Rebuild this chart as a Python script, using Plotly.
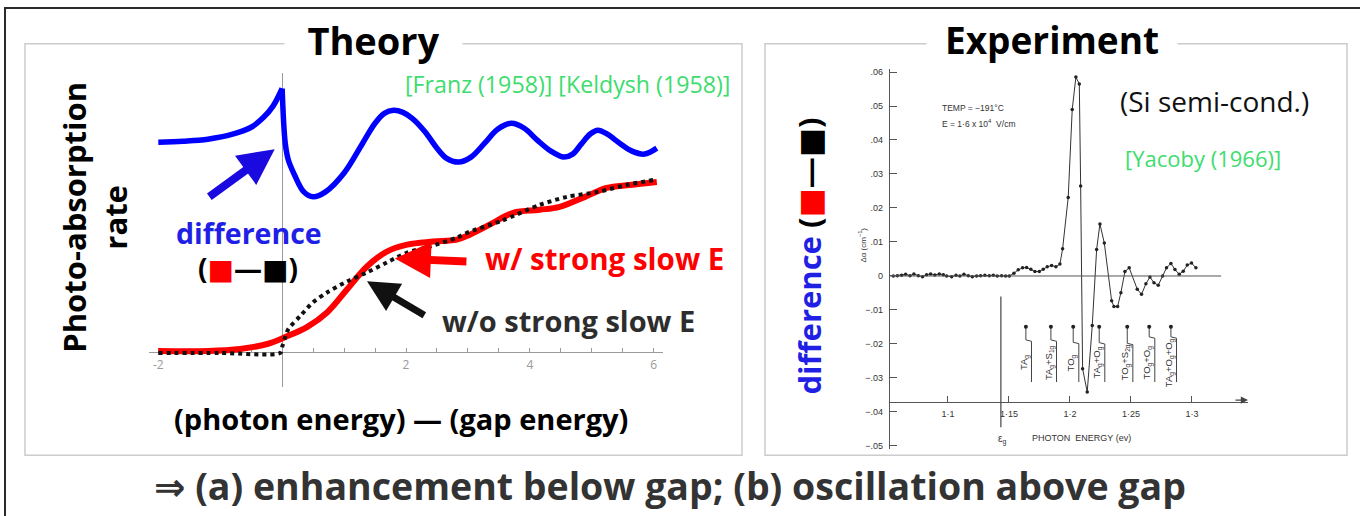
import plotly.graph_objects as go

W, H = 1360, 516
FONT = "Open Sans, DejaVu Sans, sans-serif"
SCAN_FONT = "Liberation Sans, DejaVu Sans, sans-serif"

# ---------------- Theory panel data (x = photon energy - gap energy) ----------------
DIFF_LEFT_X = [-2.0, -1.6, -1.2, -0.8, -0.5, -0.3, -0.15, 0.0]
DIFF_LEFT_Y = [2.11, 2.12, 2.14, 2.19, 2.26, 2.36, 2.47, 2.65]
DIFF_RIGHT_X = [0.0, 0.05, 0.1, 0.2, 0.35, 0.5, 0.7, 1.0, 1.3, 1.5, 1.65, 1.8, 1.95, 2.1, 2.3,
                2.5, 2.65, 2.85, 3.05, 3.27, 3.48, 3.7, 3.91, 4.12, 4.34, 4.55, 4.69, 4.83,
                4.97, 5.1, 5.25, 5.45, 5.65, 5.85, 6.05]
DIFF_RIGHT_Y = [2.65, 2.10, 1.93, 1.78, 1.61, 1.56, 1.61, 1.80, 2.10, 2.30, 2.40, 2.43, 2.41, 2.35,
                2.22, 2.05, 1.95, 1.91, 1.96, 2.10, 2.24, 2.30, 2.25, 2.13, 2.02, 1.96, 1.99,
                2.09, 2.19, 2.23, 2.19, 2.10, 2.02, 1.99, 2.05]
WITH_E_X = [-2.0, -1.2, -0.68, -0.24, 0.05, 0.40, 0.73, 1.05, 1.37, 1.69, 2.02, 2.44, 2.82,
            3.03, 3.35, 3.73, 4.16, 4.48, 4.89, 5.24, 5.61, 6.05]
WITH_E_Y = [0.01, 0.01, 0.03, 0.08, 0.15, 0.25, 0.40, 0.63, 0.86, 1.01, 1.08, 1.11, 1.13,
            1.18, 1.28, 1.40, 1.43, 1.46, 1.56, 1.65, 1.68, 1.71]
NO_E_X = [-2.0, -1.0, -0.03, 0.0, 0.05, 0.10, 0.29, 0.50, 0.73, 1.05, 1.37, 1.69, 2.02, 2.39,
          2.82, 3.03, 3.55, 4.16, 4.60, 5.10, 5.56, 6.0]
NO_E_Y = [-0.01, -0.01, -0.01, 0.05, 0.15, 0.23, 0.36, 0.50, 0.60, 0.71, 0.80, 0.90, 1.00, 1.06,
          1.15, 1.21, 1.32, 1.48, 1.56, 1.61, 1.68, 1.73]
THEORY_TICK_VALUES = [-2, -1.5, -1, -0.5, 0, 0.5, 1, 1.5, 2, 2.5, 3, 3.5, 4, 4.5, 5, 5.5, 6]
THEORY_TICK_TEXT = ["-2", "", "", "", "", "", "", "", "2", "", "", "", "4", "", "", "", "6"]

# ---------------- Experiment panel data (Yacoby 1966, Si) ----------------
EXP_E = [1.0552, 1.0585, 1.0620, 1.0653, 1.0689, 1.0721, 1.0757, 1.0792, 1.0825, 1.0858,
         1.0893, 1.0929, 1.0962, 1.0989, 1.1030, 1.1066, 1.1098, 1.1131, 1.1167, 1.1200,
         1.1235, 1.1268, 1.1303, 1.1339, 1.1372, 1.1404, 1.1440, 1.1473, 1.1503,
         1.1541, 1.1576, 1.1612, 1.1645, 1.1680, 1.1713, 1.1749, 1.1781, 1.1814, 1.1850,
         1.1885, 1.1918, 1.1940, 1.1986, 1.2019, 1.2049, 1.2077, 1.2088, 1.2104, 1.2142,
         1.2183, 1.2219, 1.2246, 1.2282, 1.2342, 1.2361, 1.2391, 1.2418, 1.2451, 1.2486,
         1.2552, 1.2587, 1.2623, 1.2656, 1.2689, 1.2724, 1.2760, 1.2792, 1.2828, 1.2861,
         1.2896, 1.2929, 1.2962, 1.2997, 1.3033]
EXP_DA = [0.0000, 0.0001, 0.0002, 0.0005, 0.0001, 0.0006, 0.0001, -0.0002, 0.0004, 0.0006,
          0.0003, 0.0006, 0.0004, 0.0000, -0.0002, 0.0002, 0.0000, 0.0005, 0.0001, -0.0002,
          0.0000, 0.0001, 0.0002, 0.0001, 0.0002, 0.0000, 0.0001, 0.0000, 0.0000,
          0.0008, 0.0018, 0.0024, 0.0025, 0.0020, 0.0013, 0.0013, 0.0020, 0.0027, 0.0031,
          0.0027, 0.0035, 0.0080, 0.0231, 0.0490, 0.0585, 0.0565, 0.0265, -0.0273, -0.0341,
          -0.0146, 0.0078, 0.0153, 0.0097, -0.0073, -0.0090, -0.0090, -0.0049, 0.0013, 0.0024,
          -0.0039, -0.0054, -0.0023, -0.0003, -0.0020, -0.0027, 0.0000, 0.0024, 0.0037, 0.0019,
          0.0005, 0.0014, 0.0032, 0.0038, 0.0024]
EXP_X_TICKS = [1.1, 1.15, 1.2, 1.25, 1.3]
EXP_X_TICK_TEXT = ["1·1", "1·15", "1·2", "1·25", "1·3"]
EXP_Y_TICKS = [-0.05, -0.04, -0.03, -0.02, -0.01, 0, 0.01, 0.02, 0.03, 0.04, 0.05, 0.06]
EXP_Y_TICK_TEXT = ["−.05", "−.04", "−.03", "−.02", "−.01", "0", ".01", ".02", ".03", ".04", ".05", ".06"]
GAP_E = 1.1434
PHONON_E = [1.1639, 1.1844, 1.2027, 1.2240, 1.2470, 1.2650, 1.2828]
PHONON_STEP = [-0.0188, -0.0188, -0.0195, -0.0196, -0.0198, -0.0179, -0.0179]
PHONON_LABELS = ["TA<sub>g</sub>", "TA<sub>g</sub>+S<sub>1g</sub>", "TO<sub>g</sub>",
                 "TA<sub>g</sub>+O<sub>g</sub>", "TO<sub>g</sub>+S<sub>2g</sub>",
                 "TO<sub>g</sub>+O<sub>g</sub>", "TA<sub>g</sub>+O<sub>g</sub>+O<sub>g</sub>"]


def px(x):
    return x / W


def py(y):
    return 1 - y / H


fig = go.Figure()

# ---- theory traces
fig.add_trace(go.Scatter(x=WITH_E_X, y=WITH_E_Y, mode="lines", xaxis="x", yaxis="y",
                         line=dict(color="#ff0000", width=6, shape="spline", smoothing=1.0)))
fig.add_trace(go.Scatter(x=NO_E_X, y=NO_E_Y, mode="lines", xaxis="x", yaxis="y",
                         line=dict(color="#111111", width=4, dash="4px,4px", shape="spline", smoothing=0.8)))
fig.add_trace(go.Scatter(x=DIFF_LEFT_X, y=DIFF_LEFT_Y, mode="lines", xaxis="x", yaxis="y",
                         line=dict(color="#0000ff", width=5.5, shape="spline", smoothing=1.0)))
fig.add_trace(go.Scatter(x=DIFF_RIGHT_X, y=DIFF_RIGHT_Y, mode="lines", xaxis="x", yaxis="y",
                         line=dict(color="#0000ff", width=5.5, shape="spline", smoothing=1.0)))

# ---- experiment traces
fig.add_trace(go.Scatter(x=EXP_E, y=EXP_DA, mode="lines+markers", xaxis="x2", yaxis="y2",
                         line=dict(color="#333333", width=1),
                         marker=dict(color="#222222", size=3.5)))
bx, by = [], []
for e, s in zip(PHONON_E, PHONON_STEP):
    bx += [e, e, e + 0.0046, e + 0.0046, None]
    by += [-0.0149, s, s - 0.0004, -0.0312, None]
fig.add_trace(go.Scatter(x=bx, y=by, mode="lines", xaxis="x2", yaxis="y2",
                         line=dict(color="#444444", width=1)))
fig.add_trace(go.Scatter(x=PHONON_E, y=[-0.0149] * len(PHONON_E), mode="markers",
                         xaxis="x2", yaxis="y2", marker=dict(color="#222222", size=4)))

shapes = [
    dict(type="rect", xref="paper", yref="paper", x0=px(5), x1=1.02, y0=-0.1, y1=py(7),
         line=dict(color="#2a2a2a", width=2)),
    dict(type="rect", xref="paper", yref="paper", x0=px(25), x1=px(742), y0=py(457), y1=py(43),
         line=dict(color="#cccccc", width=1.5)),
    dict(type="rect", xref="paper", yref="paper", x0=px(765), x1=px(1347), y0=py(457), y1=py(43),
         line=dict(color="#cccccc", width=1.5)),
    dict(type="line", xref="x2", yref="y2", x0=1.0525, x1=1.324, y0=0, y1=0,
         line=dict(color="#555555", width=1)),
    dict(type="line", xref="x2", yref="y2", x0=GAP_E, x1=GAP_E, y0=-0.0445, y1=-0.006,
         line=dict(color="#444444", width=1.2)),
]

ann = []


def text(x, y, t, size, color="#000000", xanchor="center", angle=0, bold=False, **kw):
    ann.append(dict(xref="paper", yref="paper", x=px(x), y=py(y), text=("<b>%s</b>" % t) if bold else t,
                    showarrow=False, xanchor=xanchor, yanchor="middle", textangle=angle,
                    font=dict(family=kw.pop("family", FONT), size=size, color=color), **kw))


# titles
text(373.5, 39, "Theory", 38, bold=True, bgcolor="white", width=175)
text(1052, 39, "Experiment", 37, bold=True, bgcolor="white", width=248)
# theory labels
text(403, 83, "[Franz (1958)] [Keldysh (1958)]", 23.2, color="#3ddc6e", xanchor="left")
text(94, 218, "Photo-absorption<br>rate", 31, bold=True, angle=-90)
text(249, 233, "difference", 28.5, color="#1f1fe6", bold=True)
text(248.5, 269, '(<span style="color:#ff0000">■</span>—■)', 28, bold=True)
text(483, 259, "w/ strong slow E", 29.5, color="#ff0000", xanchor="left", bold=True)
text(440, 321, "w/o strong slow E", 29, color="#2d2d2d", xanchor="left", bold=True)
text(401, 420, "(photon energy) — (gap energy)", 29, bold=True)
text(670, 487, "⇒ (a) enhancement below gap; (b) oscillation above gap", 37.5, color="#333333", bold=True)
# experiment labels
text(809, 257, '<span style="color:#1f1fe6">difference</span> (<span style="color:#ff0000">■</span>—■)',
     31, bold=True, angle=-90)
text(1118, 101, "(Si semi-cond.)", 28, color="#111111", xanchor="left")
text(1123, 158, "[Yacoby (1966)]", 22, color="#3ddc6e", xanchor="left")
text(940, 108, "TEMP = −191°C", 8.5, color="#333333", xanchor="left", family=SCAN_FONT)
text(940, 123, "E = 1·6 x 10<sup>4</sup>  V/cm", 8.5, color="#333333", xanchor="left", family=SCAN_FONT)
text(862, 246, "Δα (cm<sup>−1</sup>)", 8, color="#333333", angle=-90, family=SCAN_FONT)
text(1002, 441, "ε<sub>g</sub>", 10, color="#333333", family=SCAN_FONT)
text(1081, 440, "PHOTON  ENERGY (ev)", 9, color="#333333", family=SCAN_FONT)

for e, lab in zip(PHONON_E, PHONON_LABELS):
    ann.append(dict(xref="x2", yref="y2", x=e - 0.0012, y=-0.0255, text=lab, showarrow=False,
                    textangle=-90, font=dict(family=SCAN_FONT, size=9.5, color="#333333")))

# arrows (theory)
for (tx, ty, hx, hy, col, wid) in [(-1.20, 1.55, -0.12, 2.04, "#1a0ae0", 8),
                                    (3.00, 0.91, 1.82, 0.94, "#ff0000", 8),
                                    (2.32, 0.36, 1.37, 0.71, "#111111", 7)]:
    ann.append(dict(xref="x", yref="y", axref="x", ayref="y", x=hx, y=hy, ax=tx, ay=ty, text="",
                    showarrow=True, arrowhead=2, arrowsize=0.9, arrowwidth=wid, arrowcolor=col,
                    standoff=0, startstandoff=0))
# x-axis arrow (experiment)
ann.append(dict(xref="x2", yref="y2", x=1.346, y=-0.0365, ax=-14, ay=0, text="", showarrow=True,
                arrowhead=2, arrowsize=1.2, arrowwidth=1.2, arrowcolor="#444444", standoff=0))

fig.update_layout(
    width=W, height=H, margin=dict(l=0, r=0, t=0, b=0),
    paper_bgcolor="white", plot_bgcolor="rgba(0,0,0,0)", showlegend=False,
    shapes=shapes, annotations=ann,
    xaxis=dict(domain=[px(149), px(663)], range=[-2.15, 6.15], anchor="free", position=py(353),
               showline=True, linecolor="#9a9a9a", linewidth=1, showgrid=False, zeroline=False,
               tickvals=THEORY_TICK_VALUES, ticktext=THEORY_TICK_TEXT, ticks="inside", ticklen=4,
               tickcolor="#9a9a9a", tickfont=dict(family=FONT, size=12, color="#9a9a9a"),
               ticklabelstandoff=2, layer="below traces"),
    yaxis=dict(domain=[py(388), py(72)], range=[-0.35, 2.81], anchor="free", position=px(282.3),
               showline=True, linecolor="#9a9a9a", linewidth=1, showgrid=False, zeroline=False,
               showticklabels=False, ticks="", layer="below traces"),
    xaxis2=dict(domain=[px(890), px(1248)], range=[1.0525, 1.346], anchor="free", position=py(403),
                showline=True, linecolor="#555555", linewidth=1.2, showgrid=False, zeroline=False,
                tickvals=EXP_X_TICKS, ticktext=EXP_X_TICK_TEXT, ticks="inside", ticklen=6,
                tickcolor="#555555", tickfont=dict(family=SCAN_FONT, size=9, color="#333333"),
                ticklabelstandoff=3),
    yaxis2=dict(domain=[py(451), py(68)], range=[-0.051, 0.061], anchor="x2",
                showline=True, linecolor="#555555", linewidth=1.2, showgrid=False, zeroline=False,
                tickvals=EXP_Y_TICKS, ticktext=EXP_Y_TICK_TEXT, ticks="inside", ticklen=7,
                tickcolor="#555555", tickfont=dict(family=SCAN_FONT, size=9, color="#333333"),
                ticklabelstandoff=4),
)

fig.write_html("out.html")
